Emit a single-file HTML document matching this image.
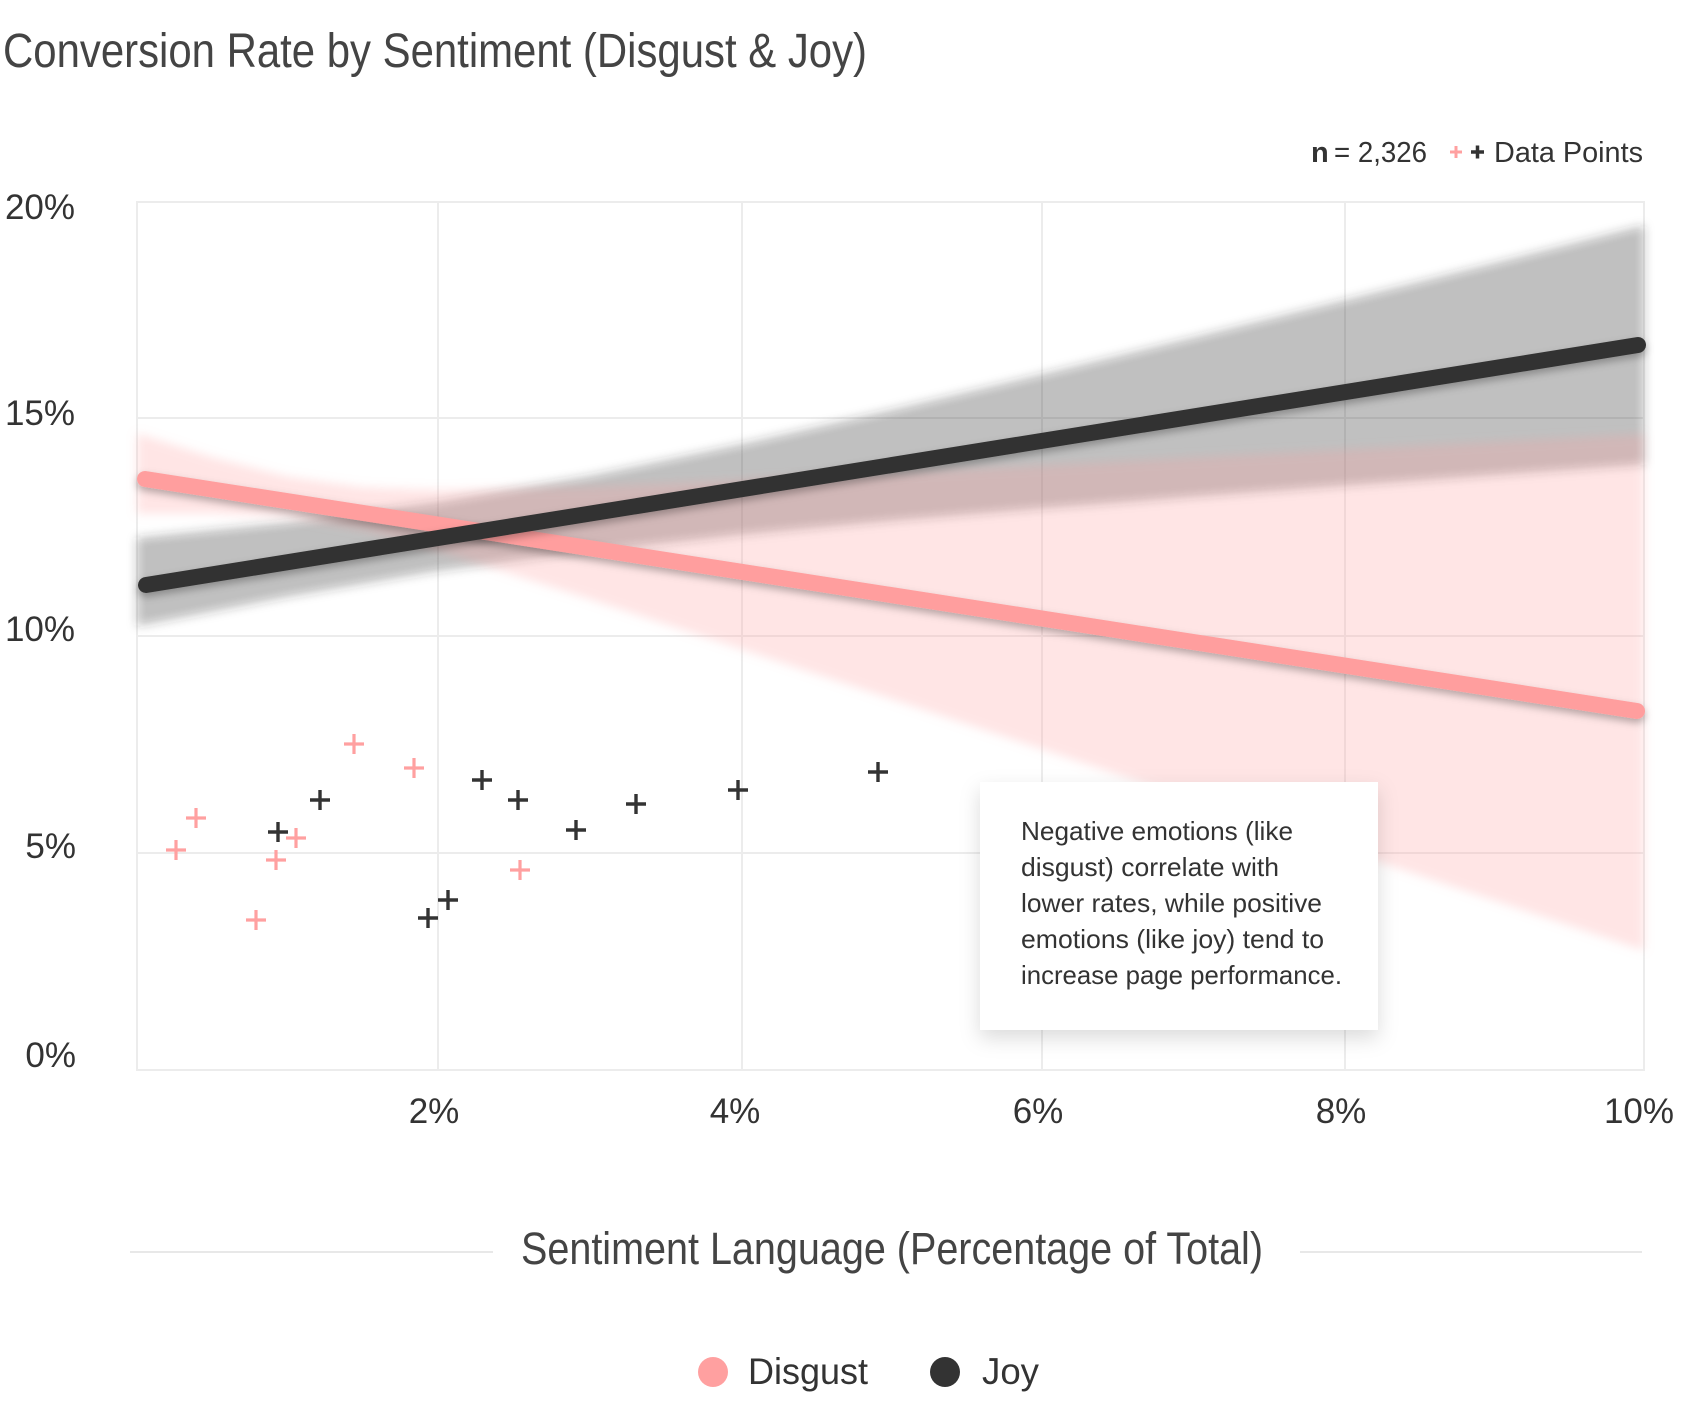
<!DOCTYPE html>
<html>
<head>
<meta charset="utf-8">
<style>
  html, body { margin: 0; padding: 0; background: #ffffff; }
  body { width: 1692px; height: 1411px; overflow: hidden; }
  svg { display: block; }
  text { font-family: "Liberation Sans", Arial, sans-serif; fill: #333333; }
</style>
</head>
<body>
<svg width="1692" height="1411" viewBox="0 0 1692 1411" xmlns="http://www.w3.org/2000/svg">
  <defs>
    <filter id="bandBlur" x="-5%" y="-20%" width="110%" height="140%">
      <feGaussianBlur stdDeviation="5"/>
    </filter>
    <filter id="lineShadow" x="-5%" y="-50%" width="110%" height="200%">
      <feDropShadow dx="0" dy="4" stdDeviation="4" flood-color="#000" flood-opacity="0.28"/>
    </filter>
    <filter id="boxShadow" x="-20%" y="-20%" width="140%" height="150%">
      <feDropShadow dx="0" dy="8" stdDeviation="10" flood-color="#000" flood-opacity="0.14"/>
    </filter>
  </defs>

  <!-- Title -->
  <text x="3" y="67" font-size="48" textLength="864" lengthAdjust="spacingAndGlyphs" style="fill:#444444">Conversion Rate by Sentiment (Disgust &amp; Joy)</text>

  <!-- Top legend -->
  <text x="1311" y="162" font-size="29" font-weight="bold">n</text>
  <text x="1334" y="162" font-size="29" textLength="93" lengthAdjust="spacingAndGlyphs">= 2,326</text>
  <path d="M1450 152 H1462 M1456 146 V158" stroke="#ffa0a0" stroke-width="3"/>
  <path d="M1471 152 H1484 M1477.5 145.5 V158.5" stroke="#333" stroke-width="3.5"/>
  <text x="1494" y="162" font-size="29" textLength="149" lengthAdjust="spacingAndGlyphs">Data Points</text>

  <!-- Gridlines & frame -->
  <g stroke="#ececec" stroke-width="2" fill="none">
    <line x1="137" y1="418" x2="1644" y2="418"/>
    <line x1="137" y1="636" x2="1644" y2="636"/>
    <line x1="137" y1="853" x2="1644" y2="853"/>
    <line x1="438" y1="202" x2="438" y2="1070"/>
    <line x1="742" y1="202" x2="742" y2="1070"/>
    <line x1="1042" y1="202" x2="1042" y2="1070"/>
    <line x1="1345" y1="202" x2="1345" y2="1070"/>
    <rect x="137" y="202" width="1507" height="868"/>
  </g>

  <!-- Joy confidence band -->
  <polygon filter="url(#bandBlur)" fill="rgba(51,51,51,0.3)" points="
    137,538 287.7,522.5 438.4,502.2 589.1,476.3 739.8,444.8 890.5,410.5 1041.2,374.8 1191.9,338.1 1342.6,301.0 1493.3,263.6 1644,225.6
    1644,464.5 1493.3,475.0 1342.6,485.8 1191.9,496.8 1041.2,508.4 890.5,520.8 739.8,534.7 589.1,551.4 438.4,570.6 287.7,596.5 137,626.0"/>

  <!-- Disgust confidence band -->
  <polygon filter="url(#bandBlur)" fill="rgba(255,158,158,0.27)" points="
    137,433.3 212.4,457.2 287.7,476.7 363.1,487.4 438.4,490.1 589.1,486.7 739.8,480.4 890.5,473.1 1041.2,465.6 1191.9,457.8 1342.6,450.0 1493.3,442.1 1644,434.2
    1644,950.6 1493.3,900.2 1342.6,849.8 1191.9,799.4 1041.2,749.1 890.5,698.8 739.8,648.8 589.1,599.0 438.4,550.8 363.1,529.7 287.7,516.9 212.4,513.6 137,513.6"/>

  <!-- Regression lines -->
  <line x1="145" y1="479" x2="1637" y2="711" stroke="#ff9e9e" stroke-width="16" stroke-linecap="round" filter="url(#lineShadow)"/>
  <line x1="146" y1="585" x2="1638" y2="345" stroke="#333333" stroke-width="16" stroke-linecap="round" filter="url(#lineShadow)"/>

  <!-- Disgust points -->
  <g stroke="#ffa0a0" stroke-width="3.2" fill="none">
    <path d="M166 850 H186 M176 840 V860"/>
    <path d="M186 818 H206 M196 808 V828"/>
    <path d="M246 920 H266 M256 910 V930"/>
    <path d="M266 860 H286 M276 850 V870"/>
    <path d="M286 838 H306 M296 828 V848"/>
    <path d="M344 744 H364 M354 734 V754"/>
    <path d="M404 768 H424 M414 758 V778"/>
    <path d="M510 870 H530 M520 860 V880"/>
  </g>
  <!-- Joy points -->
  <g stroke="#333333" stroke-width="3.4" fill="none">
    <path d="M268 832 H288 M278 822 V842"/>
    <path d="M310 800 H330 M320 790 V810"/>
    <path d="M418 918 H438 M428 908 V928"/>
    <path d="M438 900 H458 M448 890 V910"/>
    <path d="M472 780 H492 M482 770 V790"/>
    <path d="M508 800 H528 M518 790 V810"/>
    <path d="M566 830 H586 M576 820 V840"/>
    <path d="M626 804 H646 M636 794 V814"/>
    <path d="M728 790 H748 M738 780 V800"/>
    <path d="M868 772 H888 M878 762 V782"/>
  </g>

  <!-- Annotation box -->
  <rect x="980" y="782" width="398" height="248" fill="#ffffff" filter="url(#boxShadow)"/>
  <g font-size="26">
    <text x="1021" y="840" textLength="272" lengthAdjust="spacingAndGlyphs">Negative emotions (like</text>
    <text x="1021" y="876" textLength="258" lengthAdjust="spacingAndGlyphs">disgust) correlate with</text>
    <text x="1021" y="912" textLength="301" lengthAdjust="spacingAndGlyphs">lower rates, while positive</text>
    <text x="1021" y="948" textLength="303" lengthAdjust="spacingAndGlyphs">emotions (like joy) tend to</text>
    <text x="1021" y="984" textLength="321" lengthAdjust="spacingAndGlyphs">increase page performance.</text>
  </g>

  <!-- Y axis labels -->
  <g font-size="35" text-anchor="end">
    <text x="75" y="219">20%</text>
    <text x="75" y="425">15%</text>
    <text x="75" y="641">10%</text>
    <text x="76" y="858">5%</text>
    <text x="76" y="1067">0%</text>
  </g>

  <!-- X axis labels -->
  <g font-size="35" text-anchor="middle">
    <text x="434" y="1123">2%</text>
    <text x="735" y="1123">4%</text>
    <text x="1038" y="1123">6%</text>
    <text x="1341" y="1123">8%</text>
    <text x="1639" y="1123">10%</text>
  </g>

  <!-- X axis title with side rules -->
  <line x1="130" y1="1252" x2="493" y2="1252" stroke="#e8e8e8" stroke-width="2"/>
  <line x1="1300" y1="1252" x2="1642" y2="1252" stroke="#e8e8e8" stroke-width="2"/>
  <text x="521" y="1264" font-size="45" textLength="742" lengthAdjust="spacingAndGlyphs" style="fill:#444444">Sentiment Language (Percentage of Total)</text>

  <!-- Bottom legend -->
  <circle cx="713" cy="1372" r="15" fill="#ffa0a0"/>
  <text x="748" y="1384" font-size="37" textLength="120" lengthAdjust="spacingAndGlyphs">Disgust</text>
  <circle cx="945" cy="1372" r="15" fill="#333333"/>
  <text x="982" y="1384" font-size="37" textLength="57" lengthAdjust="spacingAndGlyphs">Joy</text>
</svg>
</body>
</html>
